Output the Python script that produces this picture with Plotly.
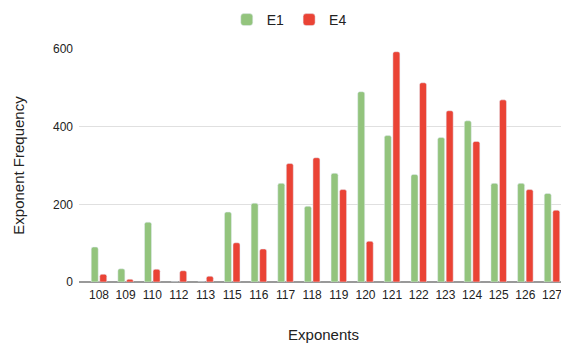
import plotly.graph_objects as go

categories = ["108", "109", "110", "112", "113", "115", "116", "117", "118", "119",
              "120", "121", "122", "123", "124", "125", "126", "127"]
e1 = [90, 34, 154, 0, 0, 180, 203, 254, 195, 280, 490, 377, 277, 372, 415, 254, 254, 228]
e4 = [20, 7, 33, 29, 15, 101, 85, 305, 320, 238, 105, 593, 513, 441, 362, 469, 238, 185]

font = "Arial, Liberation Sans, sans-serif"

# page body has an 8px margin; the figure is sized/offset to compensate
W, H = 561, 336

fig = go.Figure()
fig.add_trace(go.Bar(name="E1", x=categories, y=e1, marker_color="#93c47d"))
fig.add_trace(go.Bar(name="E4", x=categories, y=e4, marker_color="#ea4335"))

fig.update_layout(
    width=W, height=H,
    margin=dict(l=71, r=1, t=41, b=62, pad=0),
    paper_bgcolor="white", plot_bgcolor="white",
    barmode="group", bargap=0.36, bargroupgap=0.18,
    barcornerradius=2,
    font=dict(family=font, size=12, color="#222222"),
    legend=dict(orientation="h", x=0.43, xanchor="center", y=1 - 12 / H, yanchor="middle",
                yref="container", font=dict(size=14, color="#222222"),
                traceorder="normal"),
    xaxis=dict(type="category", range=[-0.75, len(categories) - 1 + 0.6],
               showgrid=False, ticks="", tickfont=dict(size=12), ticklabelstandoff=4,
               title=dict(text="Exponents", font=dict(size=15), standoff=28)),
    yaxis=dict(range=[0, 600], tickvals=[0, 200, 400, 600], showgrid=True,
               gridcolor="#e0e0e0", gridwidth=1, zeroline=True, zerolinecolor="#999999",
               zerolinewidth=2, ticks="", tickfont=dict(size=12), ticklabelstandoff=5,
               title=dict(text="Exponent Frequency", font=dict(size=15), standoff=24)),
)
fig.write_html("out.html")
